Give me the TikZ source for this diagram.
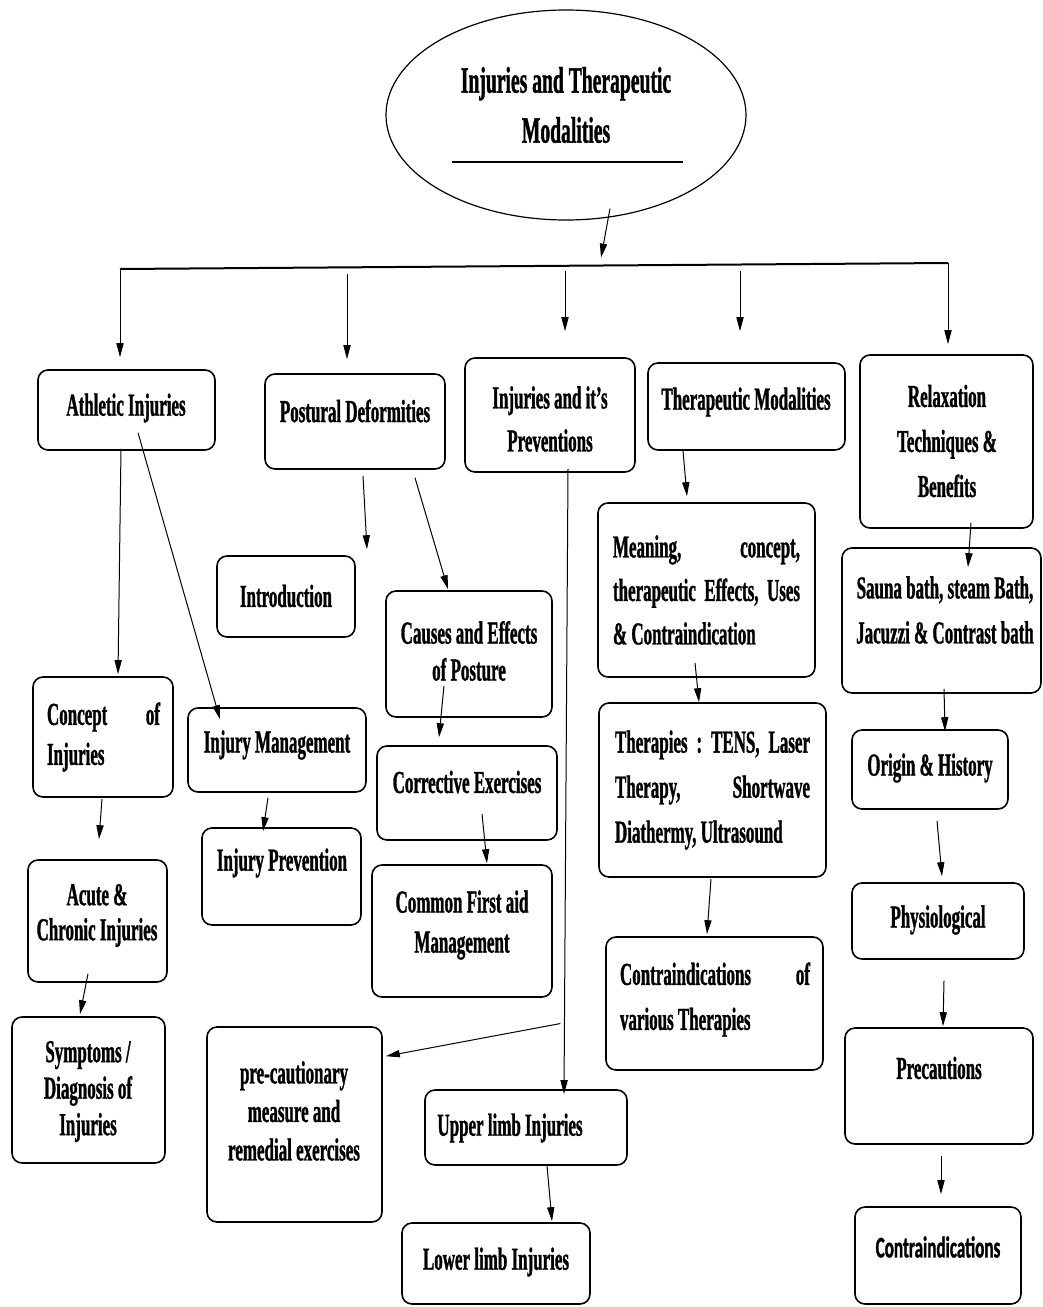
\documentclass[tikz,border=0pt]{standalone}
\usepackage{fontspec}
\setmainfont{Liberation Serif}[FakeStretch=0.53, BoldFeatures={FakeBold=1}]
\newfontfamily\sansnarrow{Carlito}[FakeStretch=0.57, BoldFeatures={FakeBold=1}]
\usetikzlibrary{arrows.meta, calc, fit, shapes.geometric}
\tikzset{
  box/.style={draw, rounded corners=5pt, line width=0.8pt, inner sep=0pt},
  txt/.style={font=\bfseries\fontsize{16}{22}\selectfont, align=center, inner sep=0pt},
  linesk/.style={font=\bfseries\fontsize{16}{#1}\selectfont},
  arr/.style={-{Triangle[length=7pt,width=3.6pt]}, line width=0.5pt},
}

\begin{document}
\begin{tikzpicture}[x=0.5pt, y=-0.5pt]
  \useasboundingbox (0,0) rectangle (1043,1307);

  % title
  \node[draw, ellipse, line width=0.6pt, minimum width=180pt, minimum height=105pt] (top) at (566,115) {};
  \node[txt, font=\bfseries\fontsize{18.5}{25}\selectfont] (top-t) at (566,105) {Injuries and Therapeutic\\Modalities};
  \draw[line width=0.6pt] ($(top.center)+(-114,47)$) -- ($(top.center)+(117,47)$);

  % first row
  \node[box, fit={(38,370) (215,450)}] (athl) {};
  \node[txt] (athl-t) at (126,408) {Athletic Injuries};
  \node[box, fit={(265,374) (445,469)}] (post) {};
  \node[txt] (post-t) at (355,411) {Postural Deformities};
  \node[box, fit={(465,358) (635,472)}] (prev) {};
  \node[txt, linesk=21.5] (prev-t) at (550,419) {Injuries and it’s\\Preventions};
  \node[box, fit={(648,363) (845,450)}] (ther) {};
  \node[txt] (ther-t) at (746,402) {Therapeutic Modalities};
  \node[box, fit={(860,355) (1033,528)}] (relax) {};
  \node[txt, linesk=22.5] (relax-t) at (947,441) {Relaxation\\Techniques \&\\Benefits};

  % athletic injuries
  \node[box, fit={(33,677) (173,797)}] (concept) {};
  \node[txt, linesk=20, text width=56.5pt, align=flush left] (concept-t) at (103.5,737) {Concept\hfill of\\Injuries};
  \node[box, fit={(188,708) (366,792)}] (injm) {};
  \node[txt] (injm-t) at (277,745) {Injury Management};
  \node[box, fit={(202,828) (361,925)}] (injp) {};
  \node[txt] (injp-t) at (282,863) {Injury Prevention};
  \node[box, fit={(28,860) (167,982)}] (acute) {};
  \node[txt, linesk=17.5] (acute-t) at (97,915.5) {Acute \&\\Chronic Injuries};
  \node[box, fit={(12,1017) (165,1163)}] (symp) {};
  \node[txt, linesk=18.25] (symp-t) at (88,1091.5) {Symptoms /\\Diagnosis of\\Injuries};

  % postural deformities
  \node[box, fit={(217,556) (355,637)}] (intro) {};
  \node[txt] (intro-t) at (286,596) {Introduction};
  \node[box, fit={(386,591) (552,717)}] (caus) {};
  \node[txt, linesk=18.5] (caus-t) at (469,651) {Causes and Effects\\of Posture};
  \node[box, fit={(377,746) (557,840)}] (corr) {};
  \node[txt] (corr-t) at (467,782) {Corrective Exercises};
  \node[box, fit={(372,865) (552,997)}] (first) {};
  \node[txt, linesk=20] (first-t) at (462,925) {Common First aid\\Management};

  % injuries and preventions
  \node[box, fit={(207,1027) (382,1222)}] (prec) {};
  \node[txt, linesk=19.25] (prec-t) at (294,1111) {pre-cautionary\\measure and\\remedial exercises};
  \node[box, fit={(425,1090) (627,1165)}] (upper) {};
  \node[txt] (upper-t) at (510,1128) {Upper limb Injuries};
  \node[box, fit={(402,1223) (590,1304)}] (lower) {};
  \node[txt] (lower-t) at (496,1262) {Lower limb Injuries};

  % therapeutic modalities
  \node[box, fit={(598,503) (815,677)}] (mean) {};
  \node[txt, linesk=21.75, text width=93.5pt, align=flush left] (mean-t) at (706.5,590) {Meaning,\hfill concept,\\therapeutic\hfill Effects,\hfill Uses\\\& Contraindication};
  \node[box, fit={(599,703) (826,877)}] (therp) {};
  \node[txt, linesk=22.5, text width=97.5pt, align=flush left] (therp-t) at (712.5,790) {Therapies\hfill :\hfill TENS,\hfill Laser\\Therapy,\hfill Shortwave\\Diathermy, Ultrasound};
  \node[box, fit={(606,937) (823,1070)}] (contv) {};
  \node[txt, linesk=22.5, text width=95pt, align=flush left] (contv-t) at (715,999.5) {Contraindications\hfill of\\various Therapies};

  % relaxation techniques
  \node[box, fit={(842,548) (1041,693)}] (sauna) {};
  \node[txt, linesk=22.5] (sauna-t) at (945,610) {Sauna bath, steam Bath,\\Jacuzzi \& Contrast bath};
  \node[box, fit={(852,730) (1008,809)}] (origin) {};
  \node[txt] (origin-t) at (930,768) {Origin \& History};
  \node[box, fit={(852,883) (1024,959)}] (physio) {};
  \node[txt] (physio-t) at (938,920) {Physiological};
  \node[box, fit={(845,1028) (1033,1144)}] (precau) {};
  \node[txt] (precau-t) at (939,1068) {Precautions};
  \node[box, fit={(855,1207) (1021,1304)}] (contra) {};
  \node[txt, font=\sansnarrow\bfseries\fontsize{15}{18}\selectfont] (contra-t) at (938,1247) {Contraindications};

  % top level connectors
  \coordinate (barL) at (120,269);
  \coordinate (barR) at (948,263);
  \draw[line width=1pt] (barL) -- (barR);
  \draw[arr] ($(top.south)+(44,-12)$) -- ($(top.south)+(35,37)$);
  \draw[arr] (barL) -- ($(athl.north)+(-6.5,-12)$);
  \draw[arr] ($(post.north)+(-8,-99)$) -- ($(post.north)+(-8,-14)$);
  \draw[arr] ($(prev.north)+(15,-86)$) -- ($(prev.north)+(15,-26)$);
  \draw[arr] ($(ther.north)+(-6.5,-91)$) -- ($(ther.north)+(-6.5,-31)$);
  \draw[arr] (barR) -- ($(relax.north)+(1.5,-10)$);

  % athletic branch
  \draw[arr] ($(athl.south)+(-5.5,-2)$) -- ($(concept.north)+(15,-2)$);
  \draw[arr] ($(athl.south)+(11.5,-18)$) -- ($(injm.north)+(-57,12)$);
  \draw[arr] ($(concept.south)+(-1,1)$) -- ($(acute.north)+(1.5,-20)$);
  \draw[arr] ($(acute.south)+(-9.5,-9)$) -- ($(symp.north)+(-8.5,-2)$);
  \draw[arr] ($(injm.south)+(-9,5)$) -- ($(injp.north)+(-18.5,4)$);

  % postural branch
  \draw[arr] ($(post.south)+(8,6)$) -- ($(intro.north)+(81,-6)$);
  \draw[arr] ($(post.south)+(60,8)$) -- ($(caus.north)+(-21,-1)$);
  \draw[arr] ($(caus.south)+(-25,-32)$) -- ($(corr.north)+(-28,-8)$);
  \draw[arr] ($(corr.south)+(15,-27)$) -- ($(first.north)+(25,-1)$);

  % preventions branch
  \draw[arr] ($(prev.south)+(18,-4)$) -- coordinate[pos=0.887] (split) ($(upper.north)+(38,5)$);
  \draw[arr] ($(split)+(-4,0)$) -- ($(prec.north east)+(3,30)$);
  \draw[arr] ($(upper.south)+(21,0)$) -- ($(lower.north)+(56,-1)$);

  % therapeutic branch
  \draw[arr] ($(ther.south)+(-63.5,0)$) -- ($(mean.north)+(-19.5,-6)$);
  \draw[arr] ($(mean.south)+(-11.5,-15)$) -- ($(therp.north)+(-13.5,0)$);
  \draw[arr] ($(therp.south)+(-1.5,1)$) -- ($(contv.north)+(-7.5,-2)$);

  % relaxation branch
  \draw[arr] ($(relax.south)+(24.5,-6)$) -- ($(sauna.north)+(26.5,20)$);
  \draw[arr] ($(sauna.south)+(2.5,-5)$) -- ($(origin.north)+(15,2)$);
  \draw[arr] ($(origin.south)+(7,11)$) -- ($(physio.north)+(4,-6)$);
  \draw[arr] ($(physio.south)+(6,21)$) -- ($(precau.north)+(4,-1)$);
  \draw[arr] ($(precau.south)+(2,11)$) -- ($(contra.north)+(3,-12)$);
\end{tikzpicture}
\end{document}
